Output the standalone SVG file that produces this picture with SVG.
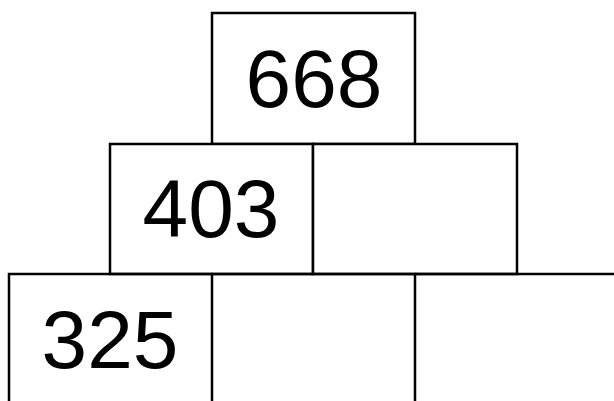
<svg xmlns="http://www.w3.org/2000/svg" width="614" height="401" viewBox="0 0 614 401">
<style>
.b{fill:#fff;stroke:#000;stroke-width:2.5}
.l{stroke:#000;stroke-width:2.5;fill:none}
.t{font-family:"Liberation Sans",Arial,sans-serif;font-size:82px;fill:#000;text-anchor:middle}
</style>
<rect width="614" height="401" fill="#fff"/>
<g id="top"><rect class="b" x="212" y="13" width="203" height="131"/><text class="t" x="314" y="107">668</text></g>
<g id="mid-left"><rect class="b" x="110" y="144" width="203" height="130"/><text class="t" x="211" y="237">403</text></g>
<g id="mid-right"><rect class="b" x="313" y="144" width="204" height="130"/></g>
<g id="bottom-left"><path class="l" d="M9 401V274H212V401"/><text class="t" x="110" y="368">325</text></g>
<g id="bottom-mid"><path class="l" d="M212 274H415V401"/></g>
<g id="bottom-right"><path class="l" d="M415 274H614"/></g>
</svg>
